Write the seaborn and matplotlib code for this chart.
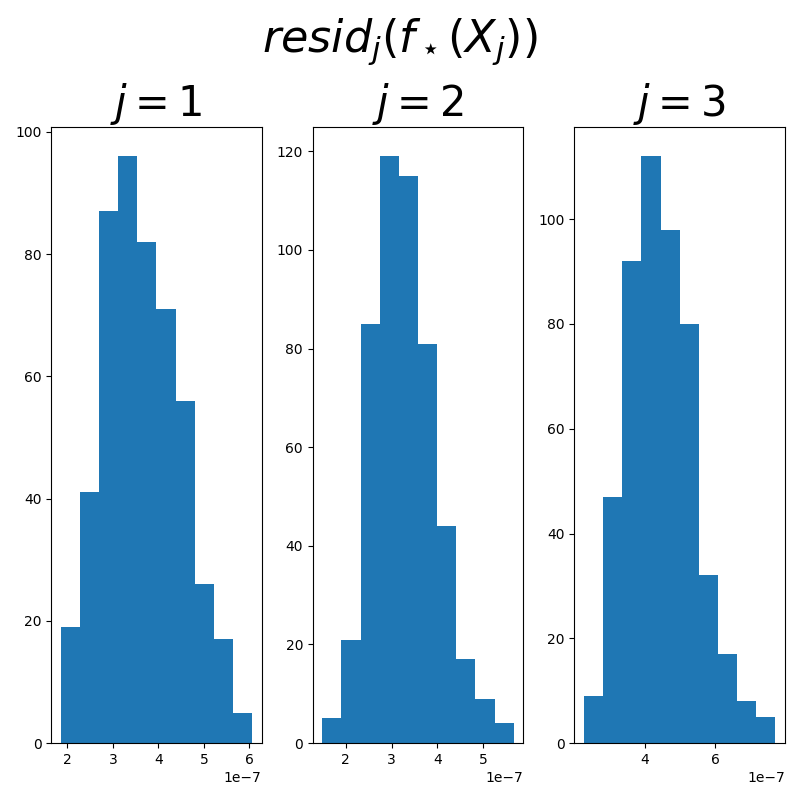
import numpy as np
import pandas as pd
import matplotlib
matplotlib.use("Agg")
import matplotlib.pyplot as plt
import seaborn as sns

# Bin edges (in units of 1e-7) and counts
edges_j1 = [1.852, 2.273, 2.694, 3.114, 3.535, 3.956, 4.377, 4.798, 5.218, 5.639, 6.060]
counts_j1 = [19, 41, 87, 96, 82, 71, 56, 26, 17, 5]

edges_j2 = [1.486, 1.905, 2.324, 2.742, 3.161, 3.580, 3.999, 4.418, 4.836, 5.255, 5.674]
counts_j2 = [5, 21, 85, 119, 115, 81, 44, 17, 9, 4]

edges_j3 = [2.280, 2.823, 3.367, 3.910, 4.454, 4.997, 5.540, 6.084, 6.627, 7.171, 7.714]
counts_j3 = [9, 47, 92, 112, 98, 80, 32, 17, 8, 5]

titles = [r"$j = 1$", r"$j = 2$", r"$j = 3$"]
scale = 1e-7

plt.style.use('default')

fig, axes = plt.subplots(1, 3, figsize=(8, 8), dpi=100)

paneles = [(edges_j1, counts_j1), (edges_j2, counts_j2), (edges_j3, counts_j3)]
for ax, (edges, counts), titulo in zip(axes, paneles, titles):
    bordes = np.array(edges) * scale
    centros = (bordes[:-1] + bordes[1:]) / 2
    df = pd.DataFrame({"resid": centros, "n": counts})
    sns.histplot(data=df, x="resid", weights="n", bins=list(bordes),
                 color="#1f77b4", alpha=1, linewidth=0, ax=ax)
    ax.set_xlabel("")
    ax.set_ylabel("")
    ax.set_title(titulo, fontsize=30)

fig.suptitle(r"$resid_j(f_\star(X_j))$", fontsize=32)
plt.tight_layout()
plt.savefig("out.png", dpi=100, facecolor="white")
